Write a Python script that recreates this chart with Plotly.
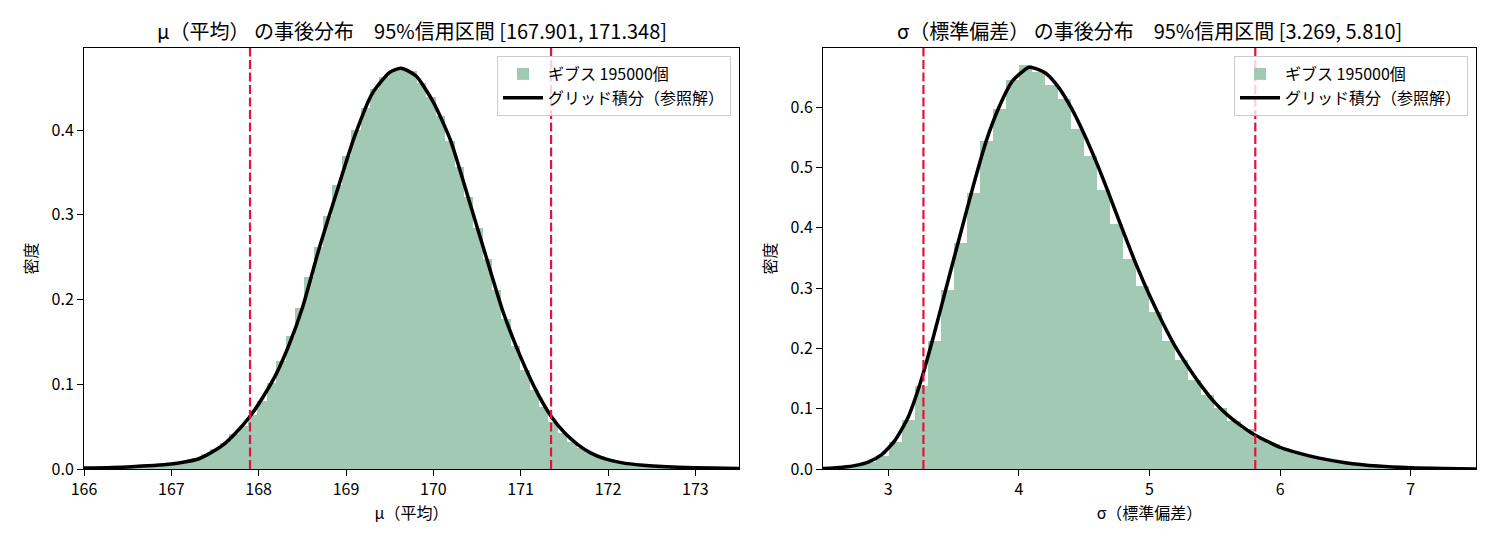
import plotly.graph_objects as go
from plotly.subplots import make_subplots

FONT = "Noto Sans CJK JP"

# μ posterior: histogram of Gibbs samples (density) + grid-integration curve
MU_EDGE0 = 166.05
MU_BIN_W = 0.1075
MU_HIST = [
    0.0015, 0.0017, 0.0020, 0.0023, 0.0028, 0.0034, 0.0041, 0.0050, 0.0064, 0.0078,
    0.0100, 0.0135, 0.0180, 0.0240, 0.0310, 0.0410, 0.0510, 0.0640, 0.0800, 0.1010,
    0.1270, 0.1570, 0.1900, 0.2260, 0.2620, 0.2990, 0.3350, 0.3690, 0.4000, 0.4260,
    0.4480, 0.4620, 0.4710, 0.4730, 0.4700, 0.4560, 0.4390, 0.4160, 0.3870, 0.3560,
    0.3210, 0.2840, 0.2480, 0.2110, 0.1770, 0.1450, 0.1170, 0.0930, 0.0730, 0.0560,
    0.0430, 0.0320, 0.0250, 0.0190, 0.0150, 0.0115, 0.0092, 0.0072, 0.0058, 0.0047,
    0.0038, 0.0032, 0.0027, 0.0022, 0.0019, 0.0016, 0.0014, 0.0012, 0.0011, 0.0009,
]
MU_GRID_X = [166.0, 166.5, 167.0, 167.15, 167.3, 167.45, 167.6, 167.75, 167.9, 168.05,
             168.2, 168.35, 168.5, 168.7, 168.9, 169.1, 169.3, 169.5, 169.63, 169.8,
             170.0, 170.2, 170.4, 170.6, 170.8, 171.0, 171.2, 171.35, 171.5, 171.65,
             171.8, 171.95, 172.15, 172.4, 172.8, 173.2, 173.5]
MU_GRID_Y = [0.0011, 0.0025, 0.0058, 0.0082, 0.0115, 0.019, 0.029, 0.044, 0.062, 0.085,
             0.112, 0.147, 0.190, 0.263, 0.329, 0.393, 0.443, 0.468, 0.473, 0.464,
             0.433, 0.387, 0.320, 0.252, 0.185, 0.132, 0.088, 0.062, 0.043, 0.029,
             0.019, 0.0125, 0.0075, 0.0045, 0.0022, 0.0011, 0.0007]
MU_CI = [167.901, 171.348]

# σ posterior
SIGMA_EDGE0 = 2.5065
SIGMA_BIN_W = 0.0997
SIGMA_HIST = [
    0.0010, 0.0020, 0.0050, 0.0110, 0.0217, 0.0440, 0.0817, 0.1380, 0.2120, 0.2960,
    0.3740, 0.4570, 0.5440, 0.5970, 0.6450, 0.6690, 0.6590, 0.6360, 0.6140, 0.5630,
    0.5190, 0.4630, 0.4070, 0.3490, 0.3030, 0.2610, 0.2130, 0.1800, 0.1480, 0.1230,
    0.1010, 0.0800, 0.0660, 0.0490, 0.0410, 0.0320, 0.0250, 0.0200, 0.0150, 0.0120,
    0.0088, 0.0068, 0.0050, 0.0038, 0.0029, 0.0022, 0.0017, 0.0013, 0.0010, 0.0008,
]
SIGMA_GRID_X = [2.5, 2.65, 2.75, 2.85, 2.95, 3.05, 3.15, 3.25, 3.35, 3.45,
                3.55, 3.65, 3.75, 3.85, 3.95, 4.08, 4.2, 4.3, 4.4, 4.5,
                4.6, 4.7, 4.8, 4.9, 5.0, 5.1, 5.2, 5.3, 5.4, 5.5,
                5.6, 5.7, 5.81, 5.93, 6.0, 6.15, 6.3, 6.5, 6.75, 7.0,
                7.25, 7.5]
SIGMA_GRID_Y = [0.0008, 0.003, 0.006, 0.012, 0.024, 0.047, 0.085, 0.146, 0.223, 0.306,
                0.388, 0.469, 0.544, 0.601, 0.643, 0.666, 0.657, 0.634, 0.599, 0.555,
                0.505, 0.450, 0.393, 0.338, 0.288, 0.243, 0.202, 0.168, 0.137, 0.110,
                0.089, 0.072, 0.056, 0.043, 0.036, 0.026, 0.018, 0.0105, 0.0048, 0.0019,
                0.0007, 0.0002]
SIGMA_CI = [3.269, 5.810]

N_SAMPLES = 195000
HIST_LABEL = f"ギブス {N_SAMPLES}個"
GRID_LABEL = "グリッド積分（参照解）"

W, H = 1495, 546
OFF = 7  # page body margin shifts the figure by this much


def centers(edge0, width, n):
    return [edge0 + width * (i + 0.5) for i in range(n)]


def px_x(p):
    return (p - OFF) / W


def px_y(p):
    return (H - (p - OFF)) / H


fig = make_subplots(rows=1, cols=2)

panels = [
    (1, MU_EDGE0, MU_BIN_W, MU_HIST, MU_GRID_X, MU_GRID_Y, MU_CI, "legend"),
    (2, SIGMA_EDGE0, SIGMA_BIN_W, SIGMA_HIST, SIGMA_GRID_X, SIGMA_GRID_Y, SIGMA_CI, "legend2"),
]

for col, e0, bw, hist, gx, gy, ci, leg in panels:
    fig.add_trace(go.Bar(
        x=centers(e0, bw, len(hist)), y=hist, width=bw,
        marker=dict(color="#a1c9b4", line=dict(width=0)),
        name=HIST_LABEL, legend=leg,
    ), row=1, col=col)
    fig.add_trace(go.Scatter(
        x=gx, y=gy, mode="lines",
        line=dict(color="black", width=3.5, shape="spline", smoothing=0.6),
        name=GRID_LABEL, legend=leg,
    ), row=1, col=col)
    for v in ci:
        fig.add_vline(x=v, line=dict(color="#e0143c", width=2.2, dash="9px,3.5px"),
                      row=1, col=col)

# axes: place plot areas where matplotlib had them
xdom1 = [px_x(83), px_x(738)]
xdom2 = [px_x(822), px_x(1475)]
ydom = [px_y(468), px_y(47)]

axis_common = dict(
    showgrid=False, zeroline=False, showline=True, linecolor="black", linewidth=1,
    mirror=True, ticks="outside", ticklen=6, tickcolor="black", automargin=False,
    tickfont=dict(family=FONT, size=16, color="black"),
)
label_font = dict(family=FONT, size=16, color="black")

fig.update_xaxes(axis_common)
fig.update_yaxes(axis_common)

fig.update_xaxes(domain=xdom1, range=[166, 173.5], dtick=1, tick0=166,
                 title=dict(text="μ（平均）", font=label_font, standoff=4),
                 row=1, col=1)
fig.update_xaxes(domain=xdom2, range=[2.5, 7.5], dtick=1, tick0=3,
                 title=dict(text="σ（標準偏差）", font=label_font, standoff=4),
                 row=1, col=2)
fig.update_yaxes(domain=ydom, range=[0, 0.4968], dtick=0.1, tickformat=".1f",
                 title=dict(text="密度", font=label_font, standoff=9),
                 row=1, col=1)
fig.update_yaxes(domain=ydom, range=[0, 0.698], dtick=0.1, tickformat=".1f",
                 title=dict(text="密度", font=label_font, standoff=9),
                 row=1, col=2)

titles = [
    (sum(xdom1) / 2, f"μ（平均） の事後分布　95%信用区間 [{MU_CI[0]:.3f}, {MU_CI[1]:.3f}]"),
    (sum(xdom2) / 2, f"σ（標準偏差） の事後分布　95%信用区間 [{SIGMA_CI[0]:.3f}, {SIGMA_CI[1]:.3f}]"),
]
for xc, txt in titles:
    fig.add_annotation(x=xc, y=px_y(30), xref="paper", yref="paper",
                       text=txt, showarrow=False, xanchor="center", yanchor="middle",
                       font=dict(family=FONT, size=20, color="black"))

legend_style = dict(
    xanchor="right", yanchor="top", y=px_y(55),
    bgcolor="rgba(255,255,255,0.8)", bordercolor="#cccccc", borderwidth=1,
    font=dict(family=FONT, size=16, color="black"), tracegroupgap=0,
    itemwidth=40,
)

fig.update_layout(
    width=W, height=H,
    margin=dict(l=0, r=0, t=0, b=0),
    paper_bgcolor="white", plot_bgcolor="white",
    bargap=0,
    legend=dict(x=px_x(730), **legend_style),
    legend2=dict(x=px_x(1467), **legend_style),
    font=dict(family=FONT),
)

fig.write_html("out.html")
